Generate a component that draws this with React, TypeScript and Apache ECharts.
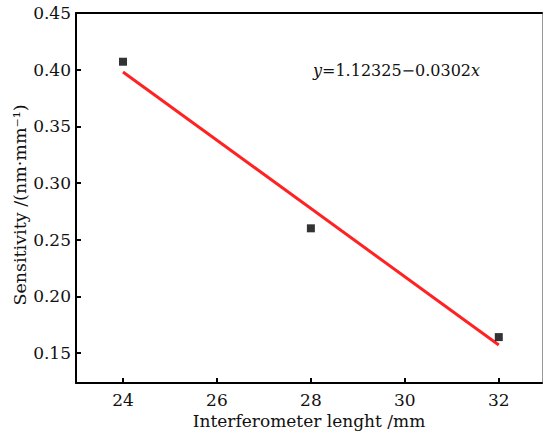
import React, { useEffect, useRef } from "react";
import * as echarts from "echarts";

const lengths = [24, 28, 32];
const sensitivity = [0.407, 0.26, 0.164];
const fitX = [24, 32];
const fitY = [0.398, 0.157];
const xTicks = [24, 26, 28, 30, 32];
const yTicks = [0.15, 0.2, 0.25, 0.3, 0.35, 0.4, 0.45];
const xTitle = "Interferometer lenght /mm";
const yTitle = "Sensitivity /(nm·mm⁻¹)";

const FONT = "DejaVu Serif";
const TXT = "#111";

export default function App() {
  const ref = useRef<HTMLDivElement>(null);
  useEffect(() => {
    if (!ref.current) return;
    const chart = echarts.init(ref.current, undefined, { renderer: "svg" });
    chart.setOption({
      animation: false,
      backgroundColor: "#fff",
      grid: { left: 76, top: 13, right: 3, bottom: 52, outerBoundsMode: "none", containLabel: false },
      xAxis: [
        {
          type: "value",
          min: 23,
          max: 32.92,
          name: xTitle,
          nameLocation: "middle",
          nameGap: 29,
          nameMoveOverlap: false,
          nameTextStyle: { fontFamily: FONT, fontSize: 17, color: TXT },
          axisLine: { show: true, lineStyle: { color: "#000", width: 2 } },
          axisTick: { show: true, inside: true, length: 5, lineStyle: { color: "#000", width: 2 }, customValues: xTicks },
          axisLabel: { fontFamily: FONT, fontSize: 17, color: TXT, margin: 8, customValues: xTicks },
          splitLine: { show: false },
        },
        {
          type: "value",
          position: "top",
          min: 23,
          max: 32.92,
          axisLine: { show: true, lineStyle: { color: "#000", width: 2 } },
          axisTick: { show: false },
          axisLabel: { show: false },
          splitLine: { show: false },
        },
      ],
      yAxis: [
        {
          type: "value",
          min: 0.1235,
          max: 0.45,
          name: yTitle,
          nameLocation: "middle",
          nameGap: 47,
          nameRotate: 90,
          nameMoveOverlap: false,
          nameTextStyle: { fontFamily: FONT, fontSize: 17.5, color: TXT, padding: [0, 14, 0, 0] },
          axisLine: { show: true, lineStyle: { color: "#000", width: 2 } },
          axisTick: { show: true, inside: true, length: 5, lineStyle: { color: "#000", width: 2 }, customValues: yTicks },
          axisLabel: {
            fontFamily: FONT,
            fontSize: 17,
            color: TXT,
            margin: 5,
            customValues: yTicks,
            formatter: (v: number) => v.toFixed(2),
          },
          splitLine: { show: false },
        },
        {
          type: "value",
          position: "right",
          min: 0.1235,
          max: 0.45,
          axisLine: { show: true, lineStyle: { color: "#999", width: 1 } },
          axisTick: { show: false },
          axisLabel: { show: false },
          splitLine: { show: false },
        },
      ],
      graphic: [
        {
          type: "text",
          left: 313,
          top: 62,
          style: {
            text: "{i|y}=1.12325−0.0302{i|x}",
            fontFamily: FONT,
            fontSize: 16,
            fill: TXT,
            rich: {
              i: { fontFamily: FONT, fontStyle: "italic", fontSize: 16, fill: TXT },
            },
          },
        },
      ],
      series: [
        {
          type: "line",
          data: fitX.map((x, i) => [x, fitY[i]]),
          showSymbol: false,
          symbol: "none",
          lineStyle: { color: "#f22", width: 3 },
          z: 2,
        },
        {
          type: "scatter",
          data: lengths.map((x, i) => [x, sensitivity[i]]),
          symbol: "rect",
          symbolSize: 8,
          itemStyle: { color: "#000" },
          z: 3,
        },
      ],
    });
    return () => chart.dispose();
  }, []);
  return <div ref={ref} style={{ width: 545, height: 435, position: "absolute", left: 0, top: 0 }} />;
}
